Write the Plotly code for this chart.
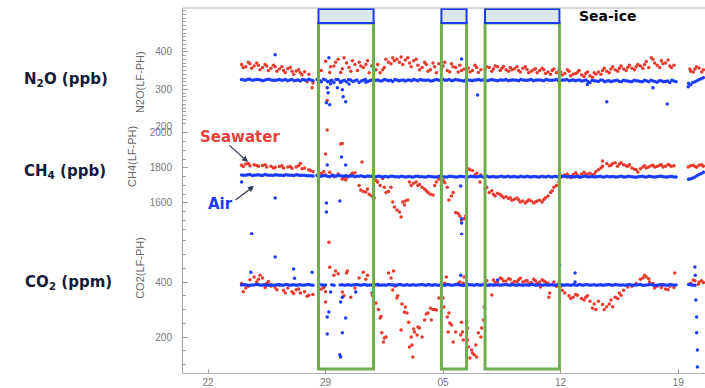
import plotly.graph_objects as go

# ---------------- data ----------------
# sampling days (day 0 = the "22" tick)
days = [2.0, 2.25, 2.5, 2.75, 3.0, 3.25, 3.5, 3.75,
        4.0, 4.25, 4.5, 4.75, 5.0, 5.25, 5.5, 5.75,
        6.0, 6.25, 6.5, 6.75, 7.0, 7.25, 7.5, 7.75,
        8.0, 8.25, 8.5, 8.75, 9.0, 9.25, 9.5, 9.75,
        10.0, 10.25, 10.5, 10.75, 11.0, 11.25, 11.5, 11.75,
        12.0, 12.25, 12.5, 12.75, 13.0, 13.25, 13.5, 13.75,
        14.0, 14.25, 14.5, 14.75, 15.0, 15.25, 15.5, 15.75,
        16.0, 16.25, 16.5, 16.75, 17.0, 17.25, 17.5, 17.75,
        18.0, 18.25, 18.5, 18.75, 19.0, 19.25, 19.5, 19.75,
        20.0, 20.25, 20.5, 20.75, 21.0, 21.25, 21.5, 21.75,
        22.0, 22.25, 22.5, 22.75, 23.0, 23.25, 23.5, 23.75,
        24.0, 24.25, 24.5, 24.75, 25.0, 25.25, 25.5, 25.75,
        26.0, 26.25, 26.5, 26.75, 27.0, 27.25, 27.5, 27.75,
        28.0, 28.25, 28.5, 28.75, 29.0, 29.25, 29.5]

# intermediate air-sampling days
air_days2 = [2.125, 2.375, 2.625, 2.875, 3.125, 3.375, 3.625, 3.875,
             4.125, 4.375, 4.625, 4.875, 5.125, 5.375, 5.625, 5.875,
             6.125, 6.375, 6.625, 6.875, 7.125, 7.375, 7.625, 7.875,
             8.125, 8.375, 8.625, 8.875, 9.125, 9.375, 9.625, 9.875,
             10.125, 10.375, 10.625, 10.875, 11.125, 11.375, 11.625, 11.875,
             12.125, 12.375, 12.625, 12.875, 13.125, 13.375, 13.625, 13.875,
             14.125, 14.375, 14.625, 14.875, 15.125, 15.375, 15.625, 15.875,
             16.125, 16.375, 16.625, 16.875, 17.125, 17.375, 17.625, 17.875,
             18.125, 18.375, 18.625, 18.875, 19.125, 19.375, 19.625, 19.875,
             20.125, 20.375, 20.625, 20.875, 21.125, 21.375, 21.625, 21.875,
             22.125, 22.375, 22.625, 22.875, 23.125, 23.375, 23.625, 23.875,
             24.125, 24.375, 24.625, 24.875, 25.125, 25.375, 25.625, 25.875,
             26.125, 26.375, 26.625, 26.875, 27.125, 27.375, 27.625, 27.875,
             28.125, 28.375, 28.625, 28.875, 29.125, 29.375]

n2o_sea = [366, 360, 368, 362, 364, 358, 362, 356,
           360, 354, 350, 355, 348, 349, 344, 347,
           340, 317, None, 350, 375, 345, 362, 380,
           355, 370, 348, 366, 372, 358, 376, 362,
           352, 344, 358, 372, 384, 380, 386, 378,
           370, 376, 364, 358, 366, 352, 360, 368,
           362, 350, 368, 358, 364, 354, 356, 350,
           358, 352, 352, 358, 354, 360, 356, 352,
           358, 355, 350, 356, 353, 348, 355, 350,
           352, 346, 350, 344, 346, 342, 348, 340,
           345, 338, 342, 336, 344, 346, 350, 348,
           354, 352, 356, 354, 358, 356, 360, 362,
           366, 358, 380, 364, 376, 370, 362, 364,
           None, None, None, 348, 354, 357, 352]
n2o_air = [326, 324, 327, 325, 326, 323, 326, 325,
           324, 326, 325, 323, 326, 324, 322, 325,
           327, 323, 326, 320, 325, 322, 318, 326,
           322, 320, 325, 323, 318, 324, 321, 325,
           324, 322, 326, 323, 321, 325, 324, 322,
           325, 326, 323, 325, 324, 322, 325, 324,
           326, 325, 323, 326, 324, 322, 325, 323,
           325, 324, 326, 324, 325, 323, 325, 326,
           324, 325, 323, 325, 324, 326, 324, 325,
           323, 325, 324, 326, 324, 325, 323, 325,
           324, 322, 325, 318, 323, 321, 324, 322,
           320, 323, 321, 324, 322, 320, 323, 321,
           324, 320, 322, 319, 323, 321, 318, 322,
           None, None, None, 312, 320, 326, 331]
n2o_air2 = [325, 327, 324, 326, 325, 324, 327, 324,
            325, 324, 326, 325, 323, 325, 326, 324,
            325, None, 324, 327, 320, 324, 326, 321,
            324, 326, 321, 325, 322, 326, 323, 324,
            325, 323, 325, 324, 326, 323, 325, 324,
            323, 325, 326, 324, 325, 323, 326, 325,
            324, 326, 324, 325, 323, 326, 324, 325,
            326, 325, 323, 326, 324, 325, 324, 323,
            325, 324, 326, 324, 325, 323, 325, 324,
            326, 324, 325, 323, 325, 326, 324, 323,
            325, 323, 321, 324, 322, 325, 320, 323,
            322, 324, 320, 323, 321, 324, 322, 320,
            322, 324, 321, 323, 320, 322, 324, 320,
            None, None, 316, 318, 323, 328]

ch4_sea = [1815, 1822, 1812, 1818, 1810, 1814, 1806, 1810,
           1804, 1808, 1800, 1805, 1798, 1806, 1825, 1800,
           1790, 1780, None, 1770, 1760, 1775, 1750, 1765,
           1735, 1745, 1760, 1772, 1700, 1665, 1680, 1640,
           1730, 1700, 1690, 1665, 1606, 1560, 1520, 1612,
           1720, 1712, 1700, 1690, 1670, 1650, 1700, 1735,
           1730, 1690, 1640, 1545, 1525, 1510, 1795, 1785,
           1770, 1760, 1680, 1660, 1650, 1655, 1640, 1635,
           1630, 1622, 1618, 1612, 1608, 1612, 1605, 1615,
           1620, 1640, 1670, 1700, 1755, 1760, 1752, 1762,
           1758, 1766, 1760, 1770, 1765, 1790, 1810, 1825,
           1815, 1830, 1822, 1818, 1810, 1800, 1790, 1795,
           1812, 1805, 1815, 1808, 1818, 1810, 1815, 1812,
           None, None, None, 1812, 1808, 1815, 1810]
ch4_air = [1760, 1758, 1762, 1759, 1761, 1757, 1760, 1758,
           1761, 1759, 1757, 1760, 1758, 1761, 1757, 1759,
           1756, 1754, 1757, 1752, 1756, 1750, 1755, 1758,
           1752, 1756, 1754, 1750, 1753, 1751, 1754, 1752,
           1750, 1753, 1751, 1749, 1752, 1750, 1753, 1749,
           1751, 1748, 1752, 1750, 1748, 1751, 1749, 1752,
           1750, 1748, 1751, 1749, 1752, 1750, 1748, 1751,
           1749, 1752, 1750, 1748, 1751, 1749, 1752, 1750,
           1748, 1751, 1749, 1750, 1752, 1748, 1751, 1749,
           1750, 1752, 1748, 1751, 1749, 1752, 1750, 1748,
           1751, 1749, 1752, 1750, 1748, 1751, 1749, 1752,
           1750, 1748, 1751, 1749, 1752, 1750, 1747, 1751,
           1749, 1752, 1748, 1750, 1752, 1749, 1751, 1748,
           None, None, None, 1738, 1748, 1762, 1775]
ch4_air2 = [1759, 1761, 1757, 1760, 1758, 1762, 1759, 1757,
            1760, 1758, 1761, 1759, 1757, 1760, 1758, 1756,
            1755, None, 1754, 1757, 1753, 1757, 1752, 1755,
            1754, 1751, 1756, 1752, 1755, 1750, 1753, 1751,
            1752, 1749, 1751, 1753, 1750, 1748, 1751, 1750,
            1749, 1752, 1750, 1748, 1752, 1750, 1748, 1751,
            1749, 1752, 1750, 1748, 1751, 1749, 1752, 1750,
            1751, 1748, 1752, 1750, 1749, 1751, 1748, 1752,
            1750, 1749, 1752, 1748, 1750, 1751, 1749, 1752,
            1748, 1750, 1751, 1749, 1752, 1748, 1751, 1750,
            1749, 1752, 1748, 1751, 1750, 1752, 1748, 1750,
            1751, 1749, 1752, 1748, 1751, 1749, 1750, 1752,
            1748, 1751, 1749, 1752, 1750, 1748, 1751, 1749,
            None, None, 1735, 1742, 1755, 1768]

co2_sea = [395, 378, 408, 418, 410, 415, 395, 385,
           380, 388, 370, 378, 365, 372, 360, 365,
           352, 355, None, 375, 327, 454, 425, 430,
           364, 433, 345, 378, 415, 436, 425, 360,
           324, 269, 196, 433, 371, 342, 225, 309,
           164, 229, 236, 200, 284, 305, 300, 342,
           342, 273, 244, 218, 400, 418, 164, 142,
           127, 200, 396, 389, 407, 400, 412, 404,
           410, 402, 408, 400, 406, 398, 405, 400,
           404, 396, 392, 385, 385, 360, 350, 345,
           352, 340, 345, 330, 320, 330, 318, 310,
           335, 345, 360, 370, 382, 385, 395, 410,
           425, 412, 395, 385, 380, 375, 385, 380,
           None, None, None, 396, 405, 400, 398]
co2_air = [389, 390, 388, 389, 391, 389, 388, 390,
           389, 391, 388, 390, 389, 388, 390, 389,
           391, 388, None, 390, 389, None, 388, None,
           390, 389, 388, 390, 389, 391, 388, 389,
           390, 388, 389, 391, 389, 388, 390, 389,
           388, 390, 389, 391, 388, 389, 390, 388,
           389, 391, 388, 390, 389, 388, 390, 389,
           391, 388, 390, 389, 388, 390, 389, 391,
           388, 389, 390, 388, 389, 391, 388, 390,
           389, 388, 390, 389, 391, 388, 389, 390,
           388, 389, 391, 388, 390, 389, 388, 390,
           389, 391, 388, 389, 390, 388, 389, 391,
           388, 390, 389, 388, 390, 389, 391, 388,
           None, None, None, 390, 388, None, None]
co2_air2 = [390, 388, 389, 391, 388, 390, 389, 388,
            390, 389, 391, 388, 390, 389, 388, 390,
            389, None, None, 388, None, 390, None, 389,
            388, 390, 389, 391, 388, 390, 389, 388,
            391, 389, 388, 390, 389, 391, 388, 390,
            389, 388, 390, 389, 391, 388, 389, 390,
            388, 390, 389, 391, 388, 389, 390, 388,
            389, 391, 388, 390, 389, 388, 390, 389,
            391, 388, 389, 390, 388, 391, 389, 388,
            390, 389, 388, 391, 389, 390, 388, 389,
            391, 388, 390, 389, 388, 390, 389, 391,
            388, 390, 389, 388, 391, 389, 390, 388,
            389, 391, 388, 390, 389, 388, 390, 389,
            None, None, 391, 388, None, None]

# additional scattered samples (day, value)
n2o_sea_x_days = [2.1, 2.4, 2.6, 2.9, 3.1, 3.4, 3.6, 3.9, 4.1, 4.4, 4.6, 4.9, 5.1, 5.4, 5.6, 5.9, 6.2,
                  7.1, 7.3, 7.6, 7.9, 8.1, 8.4, 8.6, 8.9, 9.1, 9.4, 9.6, 10.1, 10.4, 10.6, 10.9, 11.1,
                  11.4, 11.6, 11.9, 12.1, 12.4, 12.6, 12.9, 13.1, 13.4, 13.6, 13.9, 14.1, 14.4, 14.6,
                  14.9, 15.1, 15.4, 15.6, 15.9, 16.1, 16.6, 16.9, 17.1, 17.4, 17.6, 17.9, 18.1, 18.4,
                  18.6, 18.9, 19.1, 19.4, 19.6, 19.9, 20.1, 20.4, 20.6, 20.9, 21.1, 21.4, 21.6, 21.9,
                  22.1, 22.4, 22.6, 22.9, 23.1, 23.4, 23.6, 23.9, 24.1, 24.4, 24.6, 24.9, 25.1, 25.4,
                  25.6, 25.9, 26.1, 26.4, 26.6, 26.9, 27.1, 27.4, 27.6, 28.7, 28.9, 29.1, 29.4]
n2o_sea_x_vals = [358, 372, 356, 370, 352, 366, 350, 364, 348, 360, 345, 358, 340, 352, 339, 320, 304,
                  270, 360, 372, 345, 384, 358, 376, 350, 362, 366, 344, 366, 352, 380, 368, 376,
                  372, 366, 384, 360, 380, 352, 372, 348, 370, 344, 356, 372, 346, 360,
                  346, 350, 362, 346, 364, 345, 360, 348, 362, 350, 361, 348, 352, 360,
                  346, 360, 344, 352, 344, 356, 342, 340, 354, 350, 338, 352, 336, 342,
                  350, 334, 346, 332, 340, 340, 356, 344, 360, 348, 362, 350, 364, 352,
                  366, 356, 374, 384, 370, 358, 368, 378, 358, 354, 346, 360, 346]
n2o_air_x_days = [4.0, 7.05, 7.1, 7.15, 7.2, 7.25, 7.7, 8.0, 8.05, 8.2, 7.3, 7.9, 8.4, 9.4,
                  15.1, 16.05, 22.6, 23.75, 26.5, 27.35, 28.6]
n2o_air_x_vals = [392, 264, 304, 291, 384, 259, 304, 299, 280, 267, 315, 318, 314, 319,
                  381, 285, 313, 267, 304, 261, 307]

ch4_sea_x_days = [2.1, 2.4, 2.9, 3.4, 3.9, 4.4, 4.9, 5.4, 5.6, 6.1, 6.9, 7.0, 7.1, 7.4, 7.9, 8.0,
                  8.1, 8.2, 8.6, 9.1, 9.17, 9.4, 9.6, 9.9, 10.1, 10.4, 10.6, 10.9, 11.1, 11.4, 11.6,
                  11.7, 11.9, 12.1, 12.4, 12.6, 12.9, 13.1, 13.4, 13.6, 13.9, 14.1, 14.35, 14.6,
                  14.9, 15.1, 15.35, 15.6, 15.9, 16.2, 16.6, 16.9, 17.1, 17.4, 17.6, 17.9, 18.1,
                  18.4, 18.6, 18.9, 19.1, 19.4, 19.6, 19.9, 20.1, 20.4, 20.6, 20.9, 21.1, 21.4,
                  21.6, 21.9, 22.1, 22.4, 22.6, 22.9, 23.1, 23.4, 23.5, 23.9, 24.1, 24.4, 24.6,
                  24.9, 25.1, 25.4, 25.6, 25.9, 26.1, 26.4, 26.6, 26.9, 27.1, 27.4, 27.6, 28.6,
                  28.9, 29.1, 29.4]
ch4_sea_x_vals = [1808, 1826, 1814, 1818, 1800, 1812, 1808, 1812, 1795, 1785, 1780, 1880, 2017, 1760,
                  1937, 1940, 1743, 1731, 1770, 1674, 1834, 1663, 1650, 1629, 1720, 1740, 1660,
                  1690, 1577, 1549, 1606, 1589, 1617, 1700, 1720, 1706, 1680, 1660, 1646, 1720,
                  1700, 1715, 1617, 1660, 1540, 1503, 1526, 1790, 1760, 1720, 1690, 1670, 1640,
                  1648, 1630, 1625, 1615, 1628, 1606, 1600, 1618, 1600, 1612, 1606, 1630, 1660,
                  1690, 1720, 1750, 1765, 1745, 1772, 1750, 1775, 1765, 1760, 1780, 1800, 1840,
                  1812, 1826, 1810, 1830, 1812, 1818, 1792, 1777, 1806, 1800, 1812, 1805, 1815,
                  1805, 1820, 1808, 1806, 1815, 1804, 1818]
ch4_air_x_days = [2.0, 2.55, 4.0, 2.6, 7.1, 7.95, 8.2, 7.05, 7.05, 7.85, 15.05, 15.1, 15.1, 15.1]
ch4_air_x_vals = [1720, 1686, 1629, 1425, 1817, 1863, 1817, 1600, 1549, 1611, 1697, 1510, 1486, 1422]

co2_sea_x_days = [2.1, 2.4, 2.9, 3.1, 3.4, 3.6, 4.1, 4.6, 5.1, 5.4, 5.9, 6.9, 7.0, 7.2, 7.6, 8.1,
                  8.3, 9.4, 9.8, 10.1, 10.15, 10.3, 10.35, 10.45, 10.6, 10.9, 11.05, 11.15, 11.3,
                  11.55, 11.7, 11.85, 11.95, 12.1, 12.15, 12.2, 12.3, 12.45, 12.6, 12.9, 13.1, 13.3,
                  13.4, 13.6, 14.05, 14.2, 14.1, 14.35, 14.4, 14.6, 14.3, 15.1, 15.15, 15.2, 15.05,
                  14.9, 15.2, 15.45, 15.6, 15.7, 15.85, 15.95, 16.1, 16.3, 16.4, 16.45, 15.4, 15.45,
                  16.6, 16.9, 17.1, 17.4, 17.6, 17.9, 18.1, 18.4, 18.6, 18.9, 19.1, 19.4, 19.6,
                  19.8, 19.9, 20.1, 20.3, 20.35, 20.6, 20.9, 21.1, 21.6, 21.9, 22.4, 22.6, 22.9,
                  23.1, 23.6, 23.9, 24.1, 24.4, 24.6, 25.9, 26.1, 26.3, 26.6, 27.1, 27.4, 27.8,
                  28.9, 29.2, 29.4]
co2_sea_x_vals = [365, 385, 400, 425, 380, 402, 372, 360, 358, 375, 348, 380, 365, 545, 440, 350,
                  440, 410, 350, 389, 300, 275, 215, 182, 200, 415, 440, 385, 350,
                  320, 290, 287, 254, 200, 171, 127, 218, 207, 233, 262, 287, 262,
                  300, 298, 309, 418, 396, 287, 251, 182, 218, 254, 218, 189, 207,
                  396, 396, 189, 124, 153, 135, 171, 215, 233, 262, 309, 254, 233,
                  405, 353, 398, 415, 404, 412, 396, 400, 414, 404, 396, 410, 396,
                  382, 408, 400, 345, 360, 400, 395, 370, 340, 355, 335, 350, 305,
                  300, 300, 320, 310, 340, 352, 415, 418, 400, 378, 390, 372, 433,
                  407, 392, 405]
co2_air_x_days = [2.55, 4.0, 5.1, 5.15, 6.2, 7.3, 7.9, 8.0, 7.2, 7.1, 7.1, 8.0, 7.85, 7.9, 8.2,
                  8.8, 15.05, 17.25, 20.95, 21.86, 21.86, 29.0, 29.02, 29.05, 29.1, 29.1, 29.15, 29.15]
co2_air_x_vals = [436, 491, 447, 414, 436, 364, 327, 345, 291, 273, 211, 215, 135, 127, 269,
                  364, 425, 407, 462, 433, 400, 455, 425, 335, 273, 215, 153, 91]

# sea-ice periods (days)
ice_start = [6.58, 13.9, 16.5]
ice_end = [9.86, 15.4, 20.93]

tick_days = [0, 7, 14, 21, 28]
tick_labels = ["22", "29", "05", "12", "19"]

# ---------------- styling ----------------
RED = "#e83b2e"
BLUE = "#1b3bff"
GREEN = "#6fae4f"
MS = 3.5

fig = go.Figure()

panels = [
    ("y", n2o_sea, n2o_air, n2o_air2, n2o_sea_x_days, n2o_sea_x_vals, n2o_air_x_days, n2o_air_x_vals),
    ("y2", ch4_sea, ch4_air, ch4_air2, ch4_sea_x_days, ch4_sea_x_vals, ch4_air_x_days, ch4_air_x_vals),
    ("y3", co2_sea, co2_air, co2_air2, co2_sea_x_days, co2_sea_x_vals, co2_air_x_days, co2_air_x_vals),
]
for ya, sea, air, air2, sxd, sxv, axd, axv in panels:
    fig.add_trace(go.Scatter(x=days + sxd, y=sea + sxv, mode="markers", yaxis=ya, xaxis="x",
                             marker=dict(color=RED, size=MS), hoverinfo="skip"))
    fig.add_trace(go.Scatter(x=days + air_days2 + axd, y=air + air2 + axv, mode="markers",
                             yaxis=ya, xaxis="x",
                             marker=dict(color=BLUE, size=MS), hoverinfo="skip"))

shapes = []
for s, e in zip(ice_start, ice_end):
    shapes.append(dict(type="rect", xref="x", yref="paper", x0=s, x1=e, y0=0.011, y1=0.959,
                       line=dict(color=GREEN, width=3), fillcolor="rgba(0,0,0,0)", layer="above"))
    shapes.append(dict(type="rect", xref="x", yref="paper", x0=s, x1=e, y0=0.959, y1=0.997,
                       line=dict(color=BLUE, width=2), fillcolor="#dbe8f2", layer="above"))
shapes.append(dict(type="line", xref="paper", yref="paper", x0=0, x1=1, y0=1, y1=1,
                   line=dict(color="#b0b0b0", width=1)))

tickfont = dict(family="Liberation Sans", size=10, color="#777777")
yax_common = dict(showgrid=False, zeroline=False, showline=True, linecolor="#a0a0a0", linewidth=1,
                  ticks="inside", ticklen=5, tickcolor="#a0a0a0", tickfont=tickfont,
                  anchor="x", ticklabelstandoff=8)

fig.update_layout(
    width=705, height=388,
    margin=dict(l=183, r=0, t=8, b=15),
    plot_bgcolor="white", paper_bgcolor="white",
    showlegend=False,
    xaxis=dict(range=[-1.49, 29.6], tickvals=tick_days, ticktext=tick_labels,
               ticks="inside", ticklen=4, tickcolor="#a0a0a0", showline=True,
               linecolor="#b0b0b0", showgrid=False, zeroline=False, anchor="y3",
               tickfont=tickfont),
    yaxis=dict(domain=[0.674, 1.0], range=[199.5, 517], tickvals=[200, 300, 400],
               minor=dict(dtick=10, tick0=0, ticks="inside", ticklen=3, tickcolor="#a0a0a0"),
               **yax_common),
    yaxis2=dict(domain=[0.378, 0.674], range=[1417, 2034], dtick=200, tick0=0,
                minor=dict(dtick=50, ticks="inside", ticklen=3, tickcolor="#a0a0a0"), **yax_common),
    yaxis3=dict(domain=[0.0, 0.378], range=[69, 571], dtick=200, tick0=0,
                minor=dict(dtick=50, ticks="inside", ticklen=3, tickcolor="#a0a0a0"), **yax_common),
    shapes=shapes,
)

label_font = dict(family="DejaVu Sans", size=15, color="#141a38")
title_font = dict(family="Liberation Sans", size=11, color="#666666")
ann = [
    dict(text="<b>N<sub>2</sub>O (ppb)</b>", x=-0.224, y=0.803, font=label_font),
    dict(text="<b>CH<sub>4</sub> (ppb)</b>", x=-0.226, y=0.553, font=label_font),
    dict(text="<b>CO<sub>2</sub> (ppm)</b>", x=-0.220, y=0.247, font=label_font),
    dict(text="N2O(LF-PH)", x=-0.0824, y=0.797, textangle=-90, font=title_font),
    dict(text="CH4(LF-PH)", x=-0.0977, y=0.592, textangle=-90, font=title_font),
    dict(text="CO2(LF-PH)", x=-0.0824, y=0.288, textangle=-90, font=title_font),
    dict(text="<b>Seawater</b>", x=0.109, y=0.647,
         font=dict(family="DejaVu Sans", size=15, color="#e8413a")),
    dict(text="<b>Air</b>", x=0.071, y=0.463,
         font=dict(family="DejaVu Sans", size=15, color=BLUE)),
    dict(text="<b>Sea-ice</b>", x=0.814, y=0.978,
         font=dict(family="DejaVu Sans", size=14, color="#000000")),
]
for a in ann:
    a.update(xref="paper", yref="paper", showarrow=False, xanchor="center", yanchor="middle")
    fig.add_annotation(**a)

# arrows from labels to the data
for hx, hy, axp, ayp in [(0.1245, 0.578, -20, -18), (0.136, 0.512, -20, 15)]:
    fig.add_annotation(x=hx, y=hy, xref="paper", yref="paper", text="", showarrow=True,
                       ax=axp, ay=ayp, arrowhead=2, arrowsize=1, arrowwidth=1.2,
                       arrowcolor="#333c55")

fig.write_html("out.html")
